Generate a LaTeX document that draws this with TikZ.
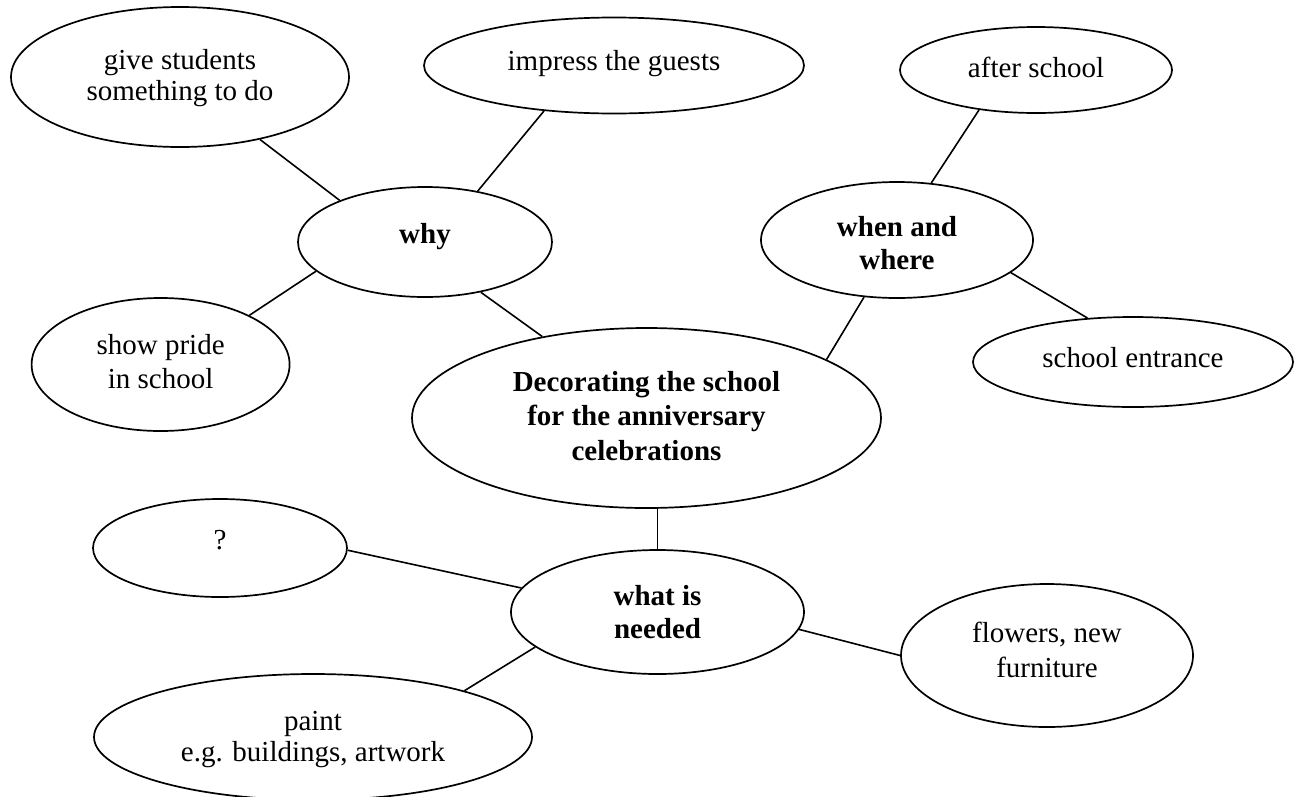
\documentclass[tikz,border=0pt]{standalone}
\usepackage{fontspec}
\setmainfont{Liberation Serif}
\usetikzlibrary{shapes.geometric}
\newcommand{\txtup}[2]{\raisebox{#1}[\height][\depth]{#2}}
\begin{document}
\begin{tikzpicture}[x=1pt,y=-1pt,
  bub/.style={draw, line width=1.7pt, ellipse, inner sep=0pt, align=center, font=\fontsize{29}{34.5}\selectfont},
  hub/.style={bub, font=\fontsize{29}{34.5}\selectfont\bfseries},
  link/.style={line width=1.6pt}]
\useasboundingbox (0,0) rectangle (1303,796);
\node[bub, minimum width=338pt, minimum height=140pt, font=\fontsize{29}{31}\selectfont] (give) at (180,77)
  {\txtup{-1.5pt}{give students}\\\txtup{-1.5pt}{something to do}};
\node[bub, minimum width=380pt, minimum height=96pt] (imp) at (614,65.5) {\txtup{2pt}{impress the guests}};
\node[hub, minimum width=254pt, minimum height=110pt] (why) at (425,242) {\txtup{5.5pt}{why}};
\node[bub, minimum width=258pt, minimum height=133pt, font=\fontsize{29}{34}\selectfont] (pride) at (160.6,364.5)
  {\txtup{3pt}{show pride}\\\txtup{3pt}{in school}};
\node[hub, minimum width=469pt, minimum height=180pt, font=\fontsize{29}{34.3}\selectfont\bfseries] (cen) at (646.5,418)
  {\txtup{2pt}{Decorating the school}\\\txtup{2pt}{for the anniversary}\\\txtup{2pt}{celebrations}};
\node[bub, minimum width=272pt, minimum height=86pt] (after) at (1036,70) {\txtup{3pt}{after school}};
\node[hub, minimum width=272pt, minimum height=116pt, font=\fontsize{29}{32.3}\selectfont\bfseries] (when) at (897,240)
  {\txtup{-3pt}{when and}\\\txtup{-3pt}{where}};
\node[bub, minimum width=320pt, minimum height=90pt] (ent) at (1133,362) {\txtup{4pt}{school entrance}};
\node[bub, minimum width=254pt, minimum height=98pt] (q) at (220,548) {\txtup{8pt}{?}};
\node[hub, minimum width=293pt, minimum height=124pt, font=\fontsize{29}{33.3}\selectfont\bfseries] (need) at (657.5,612)
  {what is\\needed};
\node[bub, minimum width=292pt, minimum height=143pt, font=\fontsize{29}{35}\selectfont] (flow) at (1047,655.5)
  {\txtup{6pt}{flowers, new}\\\txtup{6pt}{furniture}};
\node[bub, minimum width=438pt, minimum height=126pt, font=\fontsize{29}{31}\selectfont] (paint) at (313,737)
  {\txtup{-2.5pt}{paint}\\\txtup{-2.5pt}{e.g. buildings, artwork}};
\draw[link] (give.-38.5) -- (why.154.2);
\draw[link] (imp.-147.9) -- (why.44.4);
\draw[link] (why.-42.3) -- (cen.142.9);
\draw[link] (why.-165.6) -- (pride.29.5);
\draw[link] (after.-145.4) -- (when.59.9);
\draw[link] (when.-120.4) -- (cen.18.4);
\draw[link] (when.-16.7) -- (ent.136.9);
\draw[link] (need.north) -- (need.north |- cen.south);
\draw[link] (q.-1.8) -- (need.170.4);
\draw[link] (need.-164.4) -- (paint.17.3);
\draw[link] (need.-7.3) -- (flow.180);
\end{tikzpicture}
\end{document}
